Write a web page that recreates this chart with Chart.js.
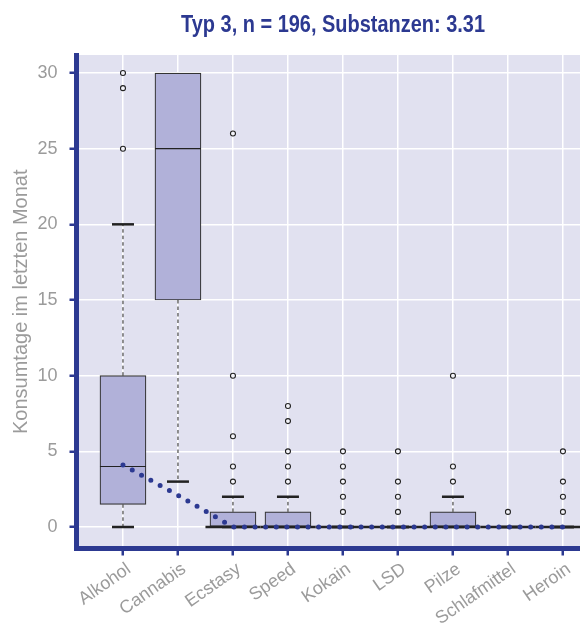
<!DOCTYPE html>
<html>
<head>
<meta charset="utf-8">
<script src="https://cdn.jsdelivr.net/npm/chart.js@4"></script>
<style>
  html, body { margin: 0; padding: 0; background: #fff; }
  #wrap { width: 580px; height: 627px; }
</style>
</head>
<body>
<div id="wrap"><canvas id="chart"></canvas></div>
<script>
const kategorien = ["Alkohol", "Cannabis", "Ecstasy", "Speed", "Kokain", "LSD", "Pilze", "Schlafmittel", "Heroin"];
const unteresQuartil = [1.5, 15, 0, 0, 0, 0, 0, 0, 0];
const median = [4, 25, 0, 0, 0, 0, 0, 0, 0];
const oberesQuartil = [10, 30, 1, 1, 0, 0, 1, 0, 0];
const whiskerUnten = [0, 3, 0, 0, 0, 0, 0, 0, 0];
const whiskerOben = [20, 30, 2, 2, 0, 0, 2, 0, 0];
const ausreisser = [[30, 29, 25], [], [26, 10, 6, 4, 3], [8, 7, 5, 4, 3], [5, 4, 3, 2, 1], [5, 3, 2, 1], [10, 4, 3], [1], [5, 3, 2, 1]];
const trendLinie = [4.1, 2.1, 0, 0, 0, 0, 0, 0, 0];
const yTicks = [0, 5, 10, 15, 20, 25, 30];
const titel = "Typ 3, n = 196, Substanzen: 3.31";

const blau = "#2c3991";
const grau = "#9b9b9b";
const boxBreite = 46;

const boxPlugin = {
  id: "boxplot",
  beforeDraw(chart) {
    const { ctx, chartArea: a } = chart;
    ctx.save();
    ctx.fillStyle = "#e1e1f0";
    ctx.fillRect(a.left, a.top, a.right - a.left, a.bottom - a.top);
    ctx.restore();
  },
  beforeDatasetsDraw(chart) {
    const { ctx, scales: { x, y } } = chart;
    ctx.save();
    ctx.strokeStyle = "#222";
    kategorien.forEach((k, i) => {
      const px = x.getPixelForValue(i);
      // gestrichelte Whisker
      ctx.lineWidth = 1;
      ctx.setLineDash([3.5, 3]);
      if (whiskerOben[i] > oberesQuartil[i]) {
        ctx.beginPath();
        ctx.moveTo(px, y.getPixelForValue(oberesQuartil[i]));
        ctx.lineTo(px, y.getPixelForValue(whiskerOben[i]));
        ctx.stroke();
      }
      if (whiskerUnten[i] < unteresQuartil[i]) {
        ctx.beginPath();
        ctx.moveTo(px, y.getPixelForValue(unteresQuartil[i]));
        ctx.lineTo(px, y.getPixelForValue(whiskerUnten[i]));
        ctx.stroke();
      }
      // Endstriche
      ctx.setLineDash([]);
      ctx.lineWidth = 2.5;
      [whiskerUnten[i], whiskerOben[i]].forEach(w => {
        if (w === oberesQuartil[i] && w !== unteresQuartil[i]) return;
        const py = y.getPixelForValue(w);
        ctx.beginPath();
        ctx.moveTo(px - 11, py);
        ctx.lineTo(px + 11, py);
        ctx.stroke();
      });
    });
    ctx.restore();
  },
  afterDatasetDraw(chart, args) {
    if (args.index !== 0) return;
    const { ctx, scales: { x, y } } = chart;
    ctx.save();
    ctx.strokeStyle = "#222";
    kategorien.forEach((k, i) => {
      const px = x.getPixelForValue(i);
      const py = y.getPixelForValue(median[i]);
      const flach = median[i] === unteresQuartil[i];
      const halb = flach ? 27.5 : boxBreite / 2;
      ctx.lineWidth = flach ? 2.5 : 1.2;
      ctx.beginPath();
      ctx.moveTo(px - halb, py);
      ctx.lineTo(px + halb, py);
      ctx.stroke();
    });
    ctx.restore();
  },
  afterDraw(chart) {
    const { ctx } = chart;
    ctx.save();
    ctx.fillStyle = blau;
    ctx.font = "bold 23px 'Liberation Sans', sans-serif";
    ctx.textAlign = "center";
    ctx.textBaseline = "alphabetic";
    // Titelschrift ist schmal -> horizontal stauchen
    const breite = ctx.measureText(titel).width;
    const faktor = 304 / breite;
    ctx.translate(333, 32);
    ctx.scale(faktor, 1);
    ctx.fillText(titel, 0, 0);
    ctx.restore();
  }
};

const boxDaten = kategorien.map((k, i) => ({ x: i, y: [unteresQuartil[i], oberesQuartil[i]] }));
const punktDaten = [];
ausreisser.forEach((werte, i) => werte.forEach(v => punktDaten.push({ x: i, y: v })));
const linienDaten = trendLinie.map((v, i) => ({ x: i, y: v }));

const tickFont = { family: "'Liberation Sans', sans-serif", size: 18 };

new Chart(document.getElementById("chart"), {
  type: "bar",
  data: {
    datasets: [
      {
        type: "bar",
        data: boxDaten,
        backgroundColor: "#b1b1d9",
        borderColor: "#333",
        borderWidth: 1.2,
        borderSkipped: false,
        barThickness: boxBreite,
        order: 3
      },
      {
        type: "line",
        data: linienDaten,
        borderColor: blau,
        borderWidth: 5,
        borderDash: [0, 10.6],
        borderCapStyle: "round",
        pointRadius: 0,
        fill: false,
        order: 2
      },
      {
        type: "scatter",
        data: punktDaten,
        pointRadius: 2.5,
        pointBorderWidth: 1.1,
        pointBorderColor: "#222",
        pointBackgroundColor: "#f4f4fa",
        order: 1
      }
    ]
  },
  options: {
    responsive: true,
    maintainAspectRatio: false,
    animation: false,
    layout: { autoPadding: false, padding: { top: 55, right: 0, left: 0, bottom: 0 } },
    plugins: {
      legend: { display: false },
      tooltip: { enabled: false }
    },
    scales: {
      x: {
        type: "linear",
        offset: false,
        min: -0.845,
        max: 8.31,
        afterBuildTicks: s => { s.ticks = kategorien.map((k, i) => ({ value: i })); },
        afterFit: s => { s.height = 78.5; s.paddingLeft = 0; s.paddingRight = 0; },
        ticks: {
          callback: v => kategorien[v],
          autoSkip: false,
          minRotation: 35,
          maxRotation: 35,
          color: grau,
          font: tickFont,
          padding: 3,
          labelOffset: 6
        },
        grid: { offset: false, color: "#ffffff", lineWidth: 1.5, tickColor: blau, tickLength: 7, tickWidth: 2.5 },
        border: { color: blau, width: 5 }
      },
      y: {
        min: -1.42,
        max: 31.19,
        afterBuildTicks: s => { s.ticks = yTicks.map(v => ({ value: v })); },
        afterFit: s => { s.width = 76.5; },
        ticks: { color: grau, font: tickFont, padding: 12 },
        grid: { color: "#ffffff", lineWidth: 1.5, tickColor: blau, tickLength: 7, tickWidth: 2.5 },
        border: { color: blau, width: 5 },
        title: {
          display: true,
          text: "Konsumtage im letzten Monat",
          color: grau,
          font: { family: "'Liberation Sans', sans-serif", size: 20 },
          padding: { top: 9, bottom: 0 }
        }
      }
    }
  },
  plugins: [boxPlugin]
});
</script>
</body>
</html>
